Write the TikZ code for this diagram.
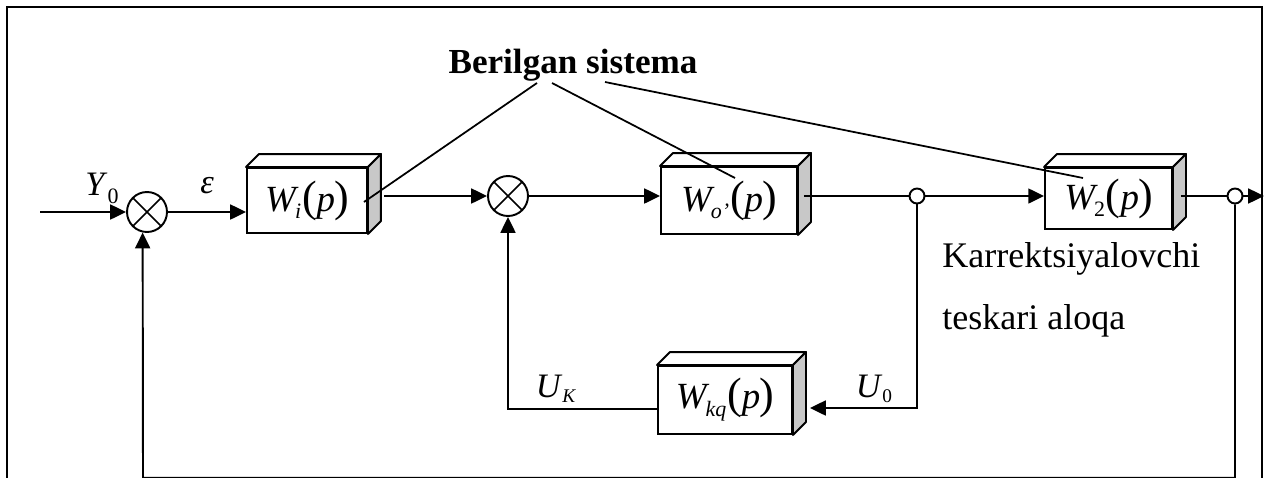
\documentclass[tikz,border=0pt]{standalone}
\usepackage{fontspec}
\setmainfont{Liberation Serif}
\usetikzlibrary{positioning,arrows.meta,calc}
\definecolor{sidegray}{RGB}{200,200,200}

% font sizes
\newcommand{\wfont}{\fontsize{21}{24}\selectfont}
\newcommand{\pfont}{\fontsize{25}{28}\selectfont}
\newcommand{\lfont}{\fontsize{19.5}{22}\selectfont}
\newcommand{\bfont}{\fontsize{20}{24}\selectfont\bfseries}
\newcommand{\kfont}{\fontsize{20.5}{24}\selectfont}
\newcommand{\sbs}[1]{\raisebox{-4.5pt}{\fontsize{12.5}{12.5}\selectfont #1}}
\newcommand{\sbu}[1]{\raisebox{-3pt}{\fontsize{11}{11}\selectfont #1}}
\newcommand{\tfn}[1]{{\wfont\itshape W}\kern-0.5pt\sbs{#1}\kern0.5pt{\pfont(}{\wfont\itshape p}\kern-0.5pt{\pfont)}}

% top and side faces of a block
\newcommand{\cubeface}[1]{%
  \filldraw[face, fill=white] (#1.north west) -- ++(13,-13) -- ([shift={(13,-13)}]#1.north east) -- (#1.north east) -- cycle;
  \filldraw[face, fill=sidegray] (#1.north east) -- ([shift={(13,-13)}]#1.north east) -- ([shift={(13,-13)}]#1.south east) -- (#1.south east) -- cycle;
}

\begin{document}
\begin{tikzpicture}[
    x=0.02cm, y=-0.02cm,
    blk/.style={draw, line width=1.1pt, fill=white, inner sep=0pt},
    face/.style={draw, line width=1.1pt, line join=round},
    sum/.style={circle, draw, line width=1.1pt, fill=white, minimum size=0.8cm, inner sep=0pt,
        path picture={\draw[line width=0.9pt]
            (path picture bounding box.north west) -- (path picture bounding box.south east)
            (path picture bounding box.north east) -- (path picture bounding box.south west);}},
    pick/.style={circle, draw, line width=1.1pt, fill=white, minimum size=0.3cm, inner sep=0pt},
    sig/.style={-{Triangle[length=9pt,width=8.5pt]}, line width=1.1pt},
    lead/.style={line width=1pt},
    frame/.style={line width=1.3pt}
]
\useasboundingbox (0,0) rectangle (1273,477);

% frame
\draw[frame] (7,490) -- (7,7) -- (1262,7) -- (1262,490);

% forward path
\node[sum] (s1) at (147,212) {};
\node[blk, minimum width=2.4cm, minimum height=1.3cm] (Wi) at (307,200.5) {\tfn{\textit{i}}};
\cubeface{Wi}
\node[sum] (s2) at (508,196) {};
\node[blk, minimum width=2.72cm, minimum height=1.34cm] (Wo) at (729,200.5) {\tfn{\textit{o'}}};
\cubeface{Wo}
\node[pick] (p1) at (917,196) {};
\node[blk, minimum width=2.54cm, minimum height=1.22cm] (W2) at (1108.5,198.5) {\tfn{2}};
\cubeface{W2}
\node[pick] (p2) at (1235,196) {};

% corrective feedback block
\node[blk, minimum width=2.68cm, minimum height=1.36cm] (Wkq) at (725,400) {\tfn{\textit{kq}}};
\cubeface{Wkq}

\coordinate (in) at (40,212);
\coordinate (out) at (1264,196);
\coordinate (fb) at (143,477.8);

% signal labels
\node[font=\lfont] (lY) at (102,188) {\textit{Y}\sbs{0}};
\node[font=\lfont] (leps) at (207,186) {\textit{ε}};
\node[font=\lfont] (lUK) at (556,389) {\textit{U}\sbu{\textit{K}}};
\node[font=\lfont] (lU0) at (874,389) {\textit{U}\sbu{0}};

% connections
\draw[sig] (in) -- (s1);
\draw[sig] (s1) -- (s1 -| Wi.west);
\draw[sig] ($(Wi.east |- s2)+(16,0)$) -- (s2);
\draw[sig] (s2) -- (s2 -| Wo.west);
\draw[lead, line width=1.1pt] ($(Wo.east |- p1)+(6,0)$) -- (p1);
\draw[sig] (p1) -- (p1 -| W2.west);
\draw[lead, line width=1.1pt] ($(W2.east |- p2)+(8,0)$) -- (p2);
\draw[sig] (p2) -- (out);
\draw[sig] (p1) |- ($(Wkq.east)+(17,8)$);
\draw[sig] ($(Wkq.west)+(0,9)$) -| (s2);
\draw[sig] (p2) |- (fb) -- (s1.258);

% plant label
\node[font=\bfont, anchor=base] (bs) at (573,73) {Berilgan sistema};
\draw[lead] ($(bs.base)+(-36,10)$) -- ($(Wi.east)+(-4,1.5)$);
\draw[lead] ($(bs.base)+(-21,10)$) -- ($(Wo.center)+(6,-22.5)$);
\draw[lead] ($(bs.base)+(32,9)$) -- ($(W2.center)+(-25.5,-20.5)$);

\node[font=\kfont, anchor=base west, inner sep=0pt] (k1) at (942,267) {Karrektsiyalovchi};
\node[font=\kfont, anchor=base west, inner sep=0pt] (k2) at (942,329) {teskari aloqa};
\end{tikzpicture}
\end{document}
